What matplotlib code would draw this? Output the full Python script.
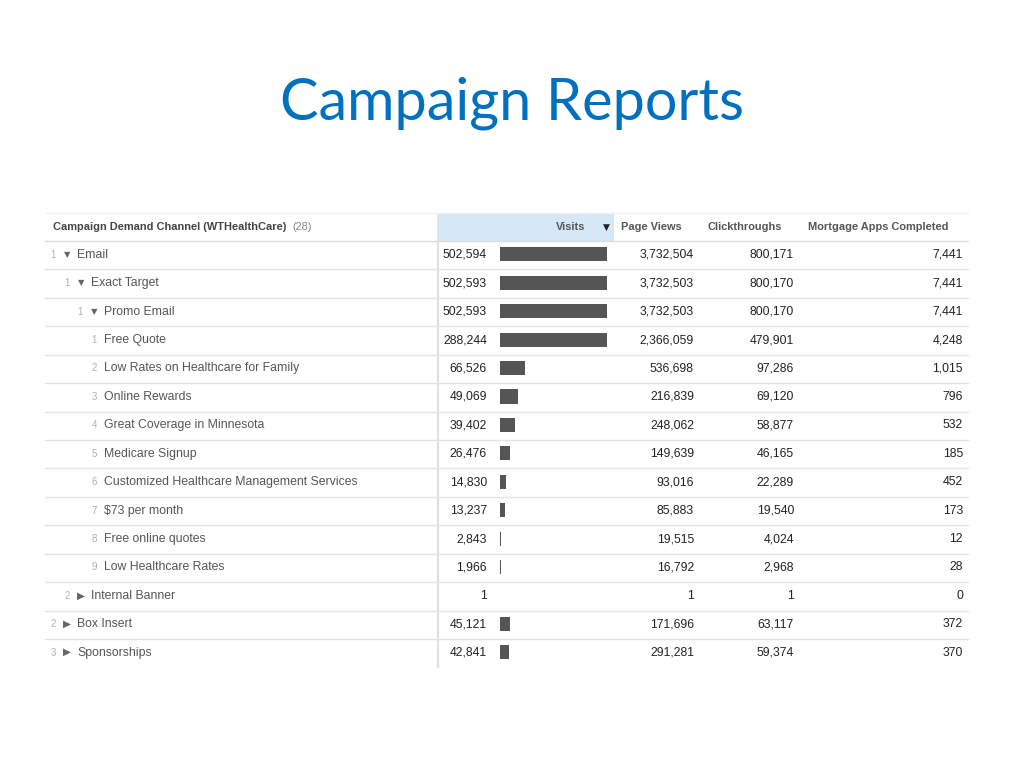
import matplotlib
matplotlib.use("Agg")
import matplotlib.pyplot as plt
from matplotlib.patches import Rectangle

# ---------------- data ----------------
labels = ["Email", "Exact Target", "Promo Email", "Free Quote",
          "Low Rates on Healthcare for Family", "Online Rewards",
          "Great Coverage in Minnesota", "Medicare Signup",
          "Customized Healthcare Management Services", "$73 per month",
          "Free online quotes", "Low Healthcare Rates", "Internal Banner",
          "Box Insert", "Sponsorships"]
levels = [0, 1, 2, 3, 3, 3, 3, 3, 3, 3, 3, 3, 1, 0, 0]
ranks = [1, 1, 1, 1, 2, 3, 4, 5, 6, 7, 8, 9, 2, 2, 3]
expanded = [True, True, True, None, None, None, None, None, None, None,
            None, None, False, False, False]
visits = [502594, 502593, 502593, 288244, 66526, 49069, 39402, 26476,
          14830, 13237, 2843, 1966, 1, 45121, 42841]
page_views = [3732504, 3732503, 3732503, 2366059, 536698, 216839, 248062,
              149639, 93016, 85883, 19515, 16792, 1, 171696, 291281]
clickthroughs = [800171, 800170, 800170, 479901, 97286, 69120, 58877,
                 46165, 22289, 19540, 4024, 2968, 1, 63117, 59374]
mortgage_apps = [7441, 7441, 7441, 4248, 1015, 796, 532, 185, 452, 173,
                 12, 28, 0, 372, 370]

title = "Campaign Reports"
dim_header = "Campaign Demand Channel (WTHealthCare)"
dim_count = "(28)"
metric_headers = ["Visits", "Page Views", "Clickthroughs", "Mortgage Apps Completed"]

# ---------------- layout ----------------
W, H = 1024, 768
fig = plt.figure(figsize=(W / 100, H / 100), dpi=100)
fig.patch.set_facecolor("white")
ax = fig.add_axes([0, 0, 1, 1])
ax.set_xlim(0, W)
ax.set_ylim(H, 0)
ax.axis("off")

FONT = ["Liberation Sans", "DejaVu Sans"]
TRI = ["DejaVu Sans"]
label_c = "#555555"
num_c = "#222222"
rank_c = "#b0b0b0"
line_c = "#e4e4e4"
FS = 8.8
HFS = 7.9

ax.text(512, 103, title, ha="center", va="center", fontsize=41.5,
        color="#0070C0", family=["Lato", "DejaVu Sans"])

left, right = 45, 968
hdr_top, hdr_bot = 213, 241
row_h = 28.43
n = len(labels)
table_bot = hdr_bot + n * row_h

# header
ax.add_patch(Rectangle((437, hdr_top), 614 - 437, hdr_bot - hdr_top,
                       facecolor="#d6e8f5", edgecolor="none", zorder=0))
ax.plot([left, right], [hdr_top, hdr_top], color="#f0f0f0", lw=1)
ax.plot([left, right], [hdr_bot, hdr_bot], color="#dcdcdc", lw=1)
hy = (hdr_top + hdr_bot) / 2 + 0.5
ax.text(53, hy, dim_header, ha="left", va="center", fontsize=HFS,
        fontweight="bold", color="#444444", family=FONT)
ax.text(292, hy, dim_count, ha="left", va="center", fontsize=HFS,
        color="#888888", family=FONT)
ax.text(585, hy, metric_headers[0], ha="right", va="center", fontsize=HFS,
        fontweight="bold", color="#555555", family=FONT)
ax.text(606, hy, "\u25bc", ha="center", va="center", fontsize=6.5,
        color="#222222", family=TRI)
ax.text(621, hy, metric_headers[1], ha="left", va="center", fontsize=HFS,
        fontweight="bold", color="#555555", family=FONT)
ax.text(708, hy, metric_headers[2], ha="left", va="center", fontsize=HFS,
        fontweight="bold", color="#555555", family=FONT)
ax.text(808, hy, metric_headers[3], ha="left", va="center", fontsize=HFS,
        fontweight="bold", color="#555555", family=FONT)

# vertical separator
ax.plot([437.5, 437.5], [hdr_bot, table_bot], color="#e0e0e0", lw=1.6)

rank_x = [53, 67, 80, 94]
fmt = lambda v: f"{v:,}"
for i in range(n):
    y = hdr_bot + (i + 0.5) * row_h - 0.5
    lvl = levels[i]
    rx = rank_x[lvl]
    ax.text(rx + 3, y, str(ranks[i]), ha="right", va="center", fontsize=7,
            color=rank_c, family=FONT)
    if expanded[i] is None:
        lx = rx + 10
    else:
        tri = "\u25bc" if expanded[i] else "\u25b6"
        ax.text(rx + 14, y - 0.5, tri, ha="center", va="center",
                fontsize=6 if expanded[i] else 7.5,
                color="#666666", family=TRI)
        lx = rx + 24
    ax.text(lx, y, labels[i], ha="left", va="center", fontsize=FS,
            color=label_c, family=FONT)
    ax.text(487, y, fmt(visits[i]), ha="right", va="center", fontsize=FS,
            color=num_c, family=FONT)
    ax.text(694, y, fmt(page_views[i]), ha="right", va="center", fontsize=FS,
            color=num_c, family=FONT)
    ax.text(794, y, fmt(clickthroughs[i]), ha="right", va="center", fontsize=FS,
            color=num_c, family=FONT)
    ax.text(963, y, fmt(mortgage_apps[i]), ha="right", va="center", fontsize=FS,
            color=num_c, family=FONT)
    ly = hdr_bot + (i + 1) * row_h
    if i < n - 1:
        ax.plot([left, right], [ly, ly], color=line_c, lw=1)

# sibling-group max for bar scaling
parents = []
stack = []
for i, lvl in enumerate(levels):
    while stack and levels[stack[-1]] >= lvl:
        stack.pop()
    parents.append(stack[-1] if stack else -1)
    stack.append(i)
group_max = []
for i in range(n):
    sib = [visits[j] for j in range(n) if parents[j] == parents[i]]
    group_max.append(max(sib))
frac = [visits[i] / group_max[i] for i in range(n)]

# bar axes over visits bar column
bx0, bx1 = 500, 607
bax = fig.add_axes([bx0 / W, 1 - table_bot / H, (bx1 - bx0) / W, (table_bot - hdr_bot) / H])
bax.set_xlim(0, 1)
bax.set_ylim(n - 0.5, -0.5)
bax.axis("off")
bax.patch.set_alpha(0)
rows = list(range(n))
widths = [f if f * (bx1 - bx0) >= 0.5 else 0 for f in frac]
bax.barh([r - 0.03 for r in rows], [max(w, 0.009) if w > 0 else 0 for w in widths],
         height=0.5, color="#555555", edgecolor="none")

fig.savefig("out.png", dpi=100, facecolor="white")
